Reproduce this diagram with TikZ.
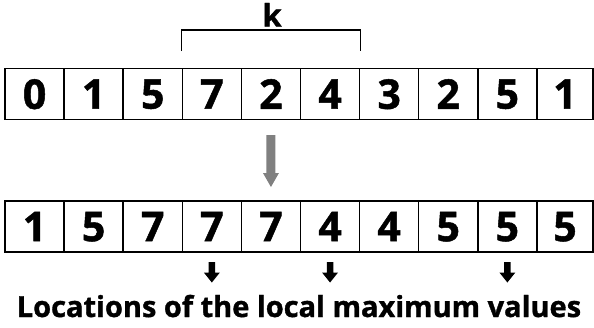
\documentclass[tikz,border=0pt]{standalone}
\usepackage{fontspec}
\setmainfont{Open Sans}[BoldFeatures={FakeBold=1.2}]
\begin{document}
\begin{tikzpicture}[x=1pt,y=-1pt,
  cell/.style={draw=black,line width=1.5pt,minimum height=51pt,inner sep=0pt,font=\fontsize{41}{41}\selectfont\bfseries,text depth=0pt,anchor=center},
  blackfill/.style={fill=black},
  grayfill/.style={fill={rgb,255:red,128;green,128;blue,128}},
  bracketline/.style={line width=1.3pt}]
\useasboundingbox (0,0) rectangle (594,327);
\def\cw{59.1}
\foreach \v [count=\i from 0] in {0,1,5,7,2,4,3,2,5,1}{
  \ifnum\i<9
    \node[cell,minimum width=\cw pt] (a\i) at ({5+\cw*\i+\cw/2},94) {\v};
  \else
    \node[cell,minimum width=56pt] (a\i) at (565,94) {\v};
  \fi
}
\foreach \v [count=\i from 0] in {1,5,7,7,7,4,4,5,5,5}{
  \ifnum\i<9
    \node[cell,minimum width=\cw pt] (b\i) at ({5+\cw*\i+\cw/2},226.5) {\v};
  \else
    \node[cell,minimum width=56pt] (b\i) at (565,226.5) {\v};
  \fi
}
\coordinate (bl) at (a3.north west|-0,51);
\coordinate (br) at (a5.north east|-0,51);
\draw[bracketline] (bl) -- ++(0,-21) coordinate (blt) -- (br|-blt) -- (br);
\node[font=\fontsize{31}{31}\selectfont\bfseries,anchor=base,inner sep=0pt] (k) at (272,26.5) {k};
% gray arrow
\coordinate (g1) at (a4.south|-0,135);
\fill[grayfill] (g1) ++(-4.5,0) -- ++(9,0) -- ++(0,38) -- ++(3.5,0) -- ++(-8,14) -- ++(-8,-14) -- ++(3.5,0) -- cycle;
% black arrows
\foreach \j in {3,5,8}{
  \coordinate (s\j) at (b\j.south|-0,262);
  \fill[blackfill] (s\j) ++(-3.25,0) -- ++(6.5,0) -- ++(0,10.5) -- ++(4.75,0) -- ++(-8,10) -- ++(-8,-10) -- ++(4.75,0) -- cycle;
}
\node[font=\fontsize{29}{29}\selectfont\bfseries,anchor=base,inner sep=0pt] (cap) at (299,317) {Locations of the local maximum values};
\end{tikzpicture}
\end{document}
